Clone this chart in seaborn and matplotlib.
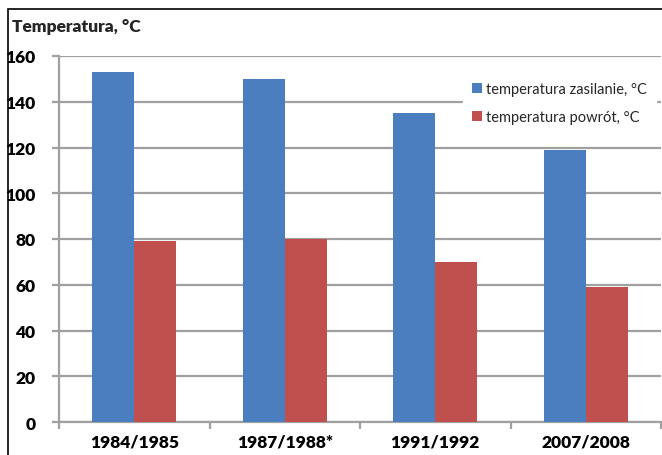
import matplotlib
matplotlib.use("Agg")
import matplotlib.pyplot as plt
import seaborn as sns
import pandas as pd
from matplotlib.patches import Rectangle
from matplotlib.ticker import FixedLocator

seasons = ["1984/1985", "1987/1988*", "1991/1992", "2007/2008"]
supply_temp = [153, 150, 135, 119]
return_temp = [79, 80, 70, 59]
series_names = ["temperatura zasilanie, °C", "temperatura powrót, °C"]
colors = ["#4A7EBF", "#C0504D"]

df = pd.DataFrame({
    "season": seasons * 2,
    "value": supply_temp + return_temp,
    "series": [series_names[0]] * 4 + [series_names[1]] * 4,
})

sns.set_style("white")
plt.rcParams["font.family"] = ["Lato", "DejaVu Sans"]

fig = plt.figure(figsize=(6.62, 4.56), dpi=100)
ax = fig.add_axes([59 / 662, 1 - 423 / 456, 602 / 662, 366 / 456])

sns.barplot(data=df, x="season", y="value", hue="series", palette=colors,
            width=0.56, gap=0, saturation=1, ax=ax, zorder=3,
            edgecolor="none")

ax.set_ylim(0, 160)
ax.set_xlim(-0.5, 3.5)
ax.set_yticks(range(0, 161, 20))
ax.yaxis.grid(True, color="#A0A0A0", linewidth=1.6, zorder=0)
ax.set_axisbelow(True)
ax.set_xlabel("")
ax.set_ylabel("")

for s in ["top", "right"]:
    ax.spines[s].set_visible(False)
for s in ["left", "bottom"]:
    ax.spines[s].set_color("#A0A0A0")
    ax.spines[s].set_linewidth(1.6)

ax.tick_params(axis="y", which="major", length=5, width=1.6, color="#A0A0A0",
               labelsize=12.5, pad=12, left=True, labelcolor="black")
ax.tick_params(axis="x", which="major", length=0, labelsize=12.5, pad=8,
               labelcolor="black")
ax.xaxis.set_minor_locator(FixedLocator([-0.5, 0.5, 1.5, 2.5, 3.5]))
ax.tick_params(axis="x", which="minor", length=5, width=1.6, color="#A0A0A0",
               bottom=True)
for lbl in ax.get_xticklabels() + ax.get_yticklabels():
    lbl.set_fontweight("heavy")

leg = ax.legend(loc="upper right", bbox_to_anchor=(1.004, 0.972), frameon=True,
                fontsize=10.5, handlelength=0.7, handleheight=0.7,
                handletextpad=0.3, labelspacing=0.95, borderpad=0.6)
leg.get_frame().set_edgecolor("white")
leg.get_frame().set_facecolor("white")
leg.get_frame().set_alpha(1)
leg.get_frame().set_boxstyle("square", pad=0.0)

fig.text(12 / 662, 1 - 27 / 456, "Temperatura, °C", fontsize=12.5,
         fontweight="heavy", va="center", ha="left")

fig.patches.append(Rectangle((8 / 662, -0.1), 1.2, 1 - 10 / 456 + 0.1,
                             transform=fig.transFigure, fill=False,
                             edgecolor="black", linewidth=1.2))

fig.savefig("out.png", dpi=100)
